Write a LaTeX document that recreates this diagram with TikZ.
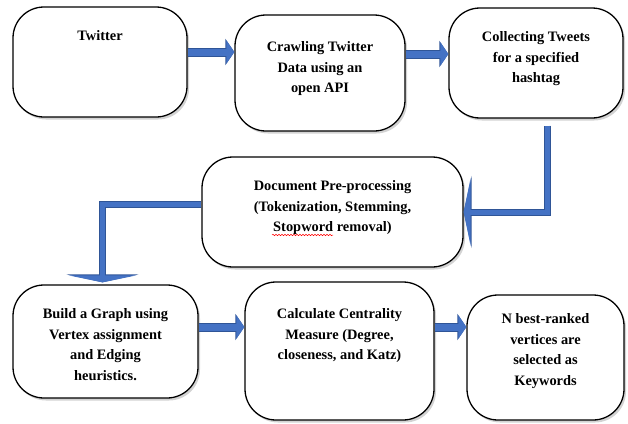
\documentclass[tikz,border=0pt]{standalone}
\usepackage{fontspec}
\setmainfont{Liberation Serif}
\usetikzlibrary{positioning,arrows.meta,shadows,decorations.pathmorphing}
\definecolor{flowblue}{HTML}{4472C4}
\definecolor{flowedge}{HTML}{2F5597}
\tikzset{
	stage/.style={draw, line width=1.3pt, rounded corners=31pt, fill=white, drop shadow={shadow xshift=2pt, shadow yshift=-2.5pt, opacity=0.35}},
	stagetext/.style={align=center, inner sep=0pt, font=\rmfamily\bfseries\fontsize{14.4}{20.5}\selectfont},
	flowarrow/.style={line width=7pt, draw=flowblue, -{Triangle[length=8pt,width=23pt]},
		preaction={draw=flowedge, line width=9pt, -{Triangle[length=9pt,width=26pt]}}},
	elbowarrow/.style={line width=5pt, draw=flowblue, -{Triangle[length=7pt,width=68pt]},
		preaction={draw=flowedge, line width=7pt, -{Triangle[length=8pt,width=72pt]}}}
}
\begin{document}
\begin{tikzpicture}[x=1pt, y=-1pt, line join=miter]
	\useasboundingbox (0,0) rectangle (628,423);
	\node[stage, minimum width=174pt, minimum height=110pt] (twitter) at (100,62) {};
	\node[stage, minimum width=170pt, minimum height=116pt] (crawl) at (320,73) {};
	\node[stage, minimum width=174pt, minimum height=110pt] (collect) at (536,63) {};
	\node[stage, minimum width=261pt, minimum height=110pt] (preproc) at (332.5,212) {};
	\node[stage, minimum width=185pt, minimum height=113pt] (graph) at (105.5,341.5) {};
	\node[stage, minimum width=189pt, minimum height=138pt] (centrality) at (339.5,351) {};
	\node[stage, minimum width=157pt, minimum height=125pt] (keywords) at (545.5,357.5) {};
	\node[stagetext, below=24pt of twitter.north] (twittertext) {Twitter};
	\node[stagetext, below=27pt of crawl.north] (crawltext) {Crawling Twitter\\Data using an\\open API};
	\node[stagetext, below=24pt of collect.north] (collecttext) {Collecting Tweets\\for a specified\\hashtag};
	\node[stagetext, below=24pt of preproc.north] (preproctext) {Document Pre-processing\\(Tokenization, Stemming,\\Stopword removal)};
	\node[stagetext, below=24pt of graph.north] (graphtext) {Build a Graph using\\Vertex assignment\\and Edging\\heuristics.};
	\node[stagetext, below=27pt of centrality.north] (centralitytext) {Calculate Centrality\\Measure (Degree,\\closeness, and Katz)};
	\node[stagetext, below=19pt of keywords.north] (keywordstext) {N best-ranked\\vertices are\\selected as\\Keywords};
	\draw[red, line width=0.5pt, decorate, decoration={snake, amplitude=0.7pt, segment length=3pt}] (272,235)--(333,235);
	\draw[flowarrow] ([yshift=10pt]twitter.east) coordinate (a1) -- (a1 -| crawl.west);
	\draw[flowarrow] ([yshift=19pt]crawl.east) coordinate (a2) -- (a2 -| collect.west);
	\draw[elbowarrow] ([xshift=11pt,yshift=-7pt]collect.south) |- (preproc.east);
	\draw[elbowarrow] ([yshift=8pt]preproc.west) -| ([xshift=-3pt,yshift=2pt]graph.north);
	\draw[flowarrow] ([yshift=14.5pt]graph.east) coordinate (a5) -- (a5 -| centrality.west);
	\draw[flowarrow] ([yshift=24pt]centrality.east) coordinate (a6) -- (a6 -| keywords.west);
\end{tikzpicture}
\end{document}
